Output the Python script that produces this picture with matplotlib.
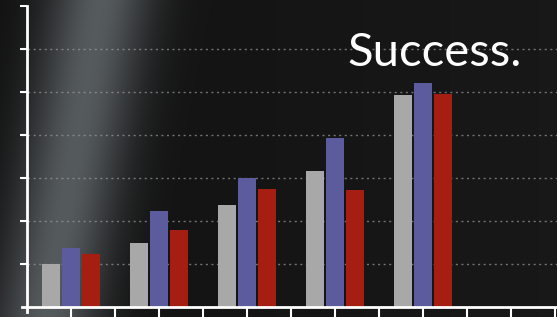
import numpy as np
import matplotlib
matplotlib.use("Agg")
import matplotlib.pyplot as plt

# bar groups sit on every other tick of the bottom axis
positions = [1, 3, 5, 7, 9]
grey_vals = [1.0, 1.47, 2.37, 3.14, 4.91]
blue_vals = [1.35, 2.23, 2.98, 3.93, 5.19]
red_vals = [1.21, 1.77, 2.74, 2.72, 4.95]
title_text = "Success."

W, H = 557, 317
fig = plt.figure(figsize=(W / 100, H / 100), dpi=100)
fig.patch.set_facecolor("#141414")

# chalkboard background with a soft diagonal light streak on the left
bg = fig.add_axes([0, 0, 1, 1], zorder=-1)
yy, xx = np.mgrid[0:H, 0:W]
centre = 100 - 0.17 * yy
glow = np.exp(-((xx - centre) / 52.0) ** 2)
base = 0.07 + 0.025 * (xx / W)
img = np.dstack([base + 0.26 * glow, base + 0.28 * glow, base + 0.29 * glow])
bg.imshow(np.clip(img, 0, 1), extent=[0, 1, 0, 1], aspect="auto", interpolation="bilinear")
bg.axis("off")

x0, y0 = 21.7, 312.1
x1, y1 = 557.0, 5.5
ax = fig.add_axes([x0 / W, (H - y0) / H, (x1 - x0) / W, (y0 - y1) / H])
ax.set_facecolor("none")

pitch = 0.455
bw = 0.41
x = np.array(positions, dtype=float)
ax.bar(x - pitch, grey_vals, width=bw, color="#a8a8a8", zorder=3)
ax.bar(x, blue_vals, width=bw, color="#5b5b9e", zorder=3)
ax.bar(x + pitch, red_vals, width=bw, color="#a61d12", zorder=3)

ax.set_xlim(-0.12, 12.05)
ax.set_ylim(-0.13, 7)

for s in ["top", "right"]:
    ax.spines[s].set_visible(False)
ax.spines["left"].set_position(("data", 0))
ax.spines["bottom"].set_position(("data", 0))
for s in ["left", "bottom"]:
    ax.spines[s].set_color("white")
    ax.spines[s].set_linewidth(2)
    ax.spines[s].set_zorder(4)

ax.set_xticks(range(1, 13))
ax.set_yticks(range(1, 8))
ax.set_xticklabels([])
ax.set_yticklabels([])
ax.tick_params(axis="x", direction="out", length=7.5, width=1.5, color="white")
ax.tick_params(axis="y", direction="out", length=5, width=1.5, color="white")

for v in range(1, 7):
    ax.axhline(v, color="#9a9a9a", lw=1, ls=(0, (1.5, 2.5)), alpha=0.7, zorder=1)

fig.text(347 / W, (H - 66) / H, title_text, color="white", fontsize=34,
         family=["Lato", "DejaVu Sans"], ha="left", va="baseline")

fig.savefig("out.png", dpi=100, facecolor=fig.get_facecolor())
